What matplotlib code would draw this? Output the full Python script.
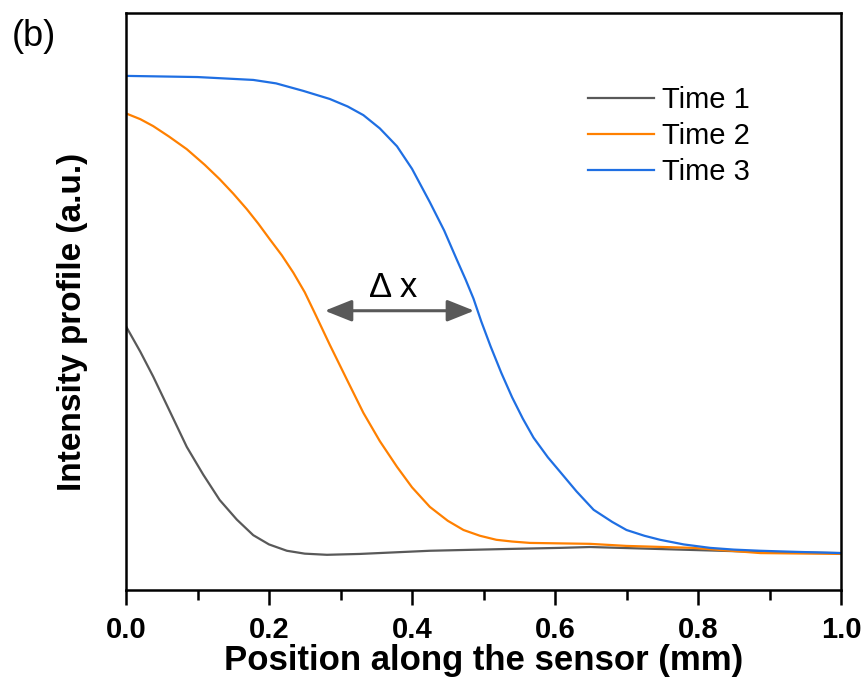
import numpy as np
import matplotlib.pyplot as plt
from matplotlib.ticker import MultipleLocator

plt.rcParams['font.family'] = ['Liberation Sans', 'DejaVu Sans']

# positions along the sensor (mm) and intensity (a.u.)
x1 = [0.0, 0.02, 0.038, 0.06, 0.085, 0.108, 0.131, 0.155, 0.178, 0.2, 0.225, 0.25, 0.281, 0.327,
      0.425, 0.53, 0.607, 0.649, 0.747, 0.887, 1.0]
y1 = [0.457, 0.413, 0.370, 0.313, 0.248, 0.200, 0.156, 0.122, 0.095, 0.079, 0.068, 0.063, 0.061, 0.0625,
      0.068, 0.071, 0.073, 0.0745, 0.071, 0.066, 0.064]

x2 = [0.0, 0.02, 0.038, 0.06, 0.085, 0.11, 0.131, 0.15, 0.169, 0.185, 0.201, 0.218, 0.234, 0.25,
      0.264, 0.285, 0.31, 0.332, 0.355, 0.379, 0.40, 0.425, 0.45, 0.472, 0.495, 0.518, 0.54, 0.565,
      0.649, 0.70, 0.793, 0.887, 1.0]
y2 = [0.826, 0.816, 0.804, 0.786, 0.764, 0.737, 0.712, 0.687, 0.660, 0.635, 0.608, 0.580, 0.550, 0.516,
      0.480, 0.425, 0.362, 0.307, 0.258, 0.2135, 0.178, 0.144, 0.120, 0.104, 0.094, 0.087, 0.084, 0.0816,
      0.080, 0.0764, 0.073, 0.064, 0.0625]

x3 = [0.0, 0.1, 0.178, 0.21, 0.248, 0.285, 0.31, 0.332, 0.355, 0.379, 0.40, 0.425, 0.445, 0.4625,
      0.475, 0.486, 0.497, 0.51, 0.525, 0.54, 0.555, 0.57, 0.59, 0.607, 0.63, 0.654, 0.68, 0.70,
      0.725, 0.747, 0.78, 0.817, 0.85, 0.887, 0.94, 1.0]
y3 = [0.891, 0.889, 0.884, 0.878, 0.865, 0.851, 0.838, 0.823, 0.800, 0.769, 0.730, 0.672, 0.623, 0.573,
      0.538, 0.505, 0.465, 0.422, 0.376, 0.334, 0.297, 0.264, 0.230, 0.205, 0.171, 0.139, 0.118, 0.104,
      0.094, 0.087, 0.079, 0.073, 0.070, 0.068, 0.066, 0.064]

labels = ["Time 1", "Time 2", "Time 3"]
colors = ["#595959", "#ff8000", "#1f6fe3"]

fig = plt.figure(figsize=(8.68, 6.77), dpi=100)
ax = fig.add_axes([126 / 868, 1 - 590 / 677, 715 / 868, 577 / 677])

for xs, ys, lab, c in zip([x1, x2, x3], [y1, y2, y3], labels, colors):
    ax.plot(xs, ys, color=c, lw=1.6, label=lab, solid_joinstyle="round")

# delta x arrow between the two fronts
ax.annotate("", xy=(0.278, 0.484), xytext=(0.487, 0.484),
            arrowprops=dict(arrowstyle="<|-|>,head_length=0.75,head_width=0.3", color="#595959", lw=2.2,
                            mutation_scale=22, shrinkA=0, shrinkB=0))
ax.text(0.374, 0.496, "Δ x", fontsize=25, ha="center", va="bottom")

ax.set_xlim(0, 1)
ax.set_ylim(0, 1)
ax.xaxis.set_major_locator(MultipleLocator(0.2))
ax.xaxis.set_minor_locator(MultipleLocator(0.1))
ax.set_yticks([])
ax.tick_params(axis="x", which="major", direction="out", length=11, width=1.8, labelsize=21, pad=8)
ax.tick_params(axis="x", which="minor", direction="out", length=7, width=1.8)
for lab in ax.get_xticklabels():
    lab.set_fontweight("bold")
for sp in ax.spines.values():
    sp.set_linewidth(1.8)

ax.set_xlabel("Position along the sensor (mm)", fontsize=25, fontweight="bold", labelpad=0)
ax.set_ylabel("Intensity profile (a.u.)", fontsize=24, fontweight="bold")
ax.yaxis.set_label_coords(-0.053, 0.465)

ax.legend(loc="upper left", bbox_to_anchor=(588 / 868, 1 - 86 / 677), bbox_transform=fig.transFigure,
          frameon=False, fontsize=21, borderpad=0, borderaxespad=0,
          handlelength=2.25, handletextpad=0.3, labelspacing=0.28)

fig.text(12 / 868, 1 - 46 / 677, "(b)", fontsize=26, va="baseline")

fig.savefig("out.png", dpi=100)
